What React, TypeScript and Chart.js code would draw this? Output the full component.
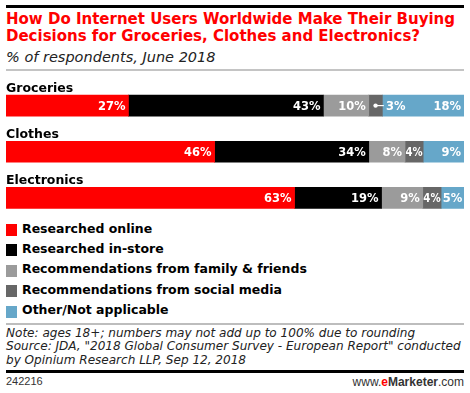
import React, { useEffect, useRef } from "react";
import { Chart, registerables } from "chart.js";

Chart.register(...registerables);

const categories = ["Groceries", "Clothes", "Electronics"];
const seriesNames = [
  "Researched online",
  "Researched in-store",
  "Recommendations from family & friends",
  "Recommendations from social media",
  "Other/Not applicable",
];
const researchedOnline = [27, 46, 63];
const researchedInStore = [43, 34, 19];
const recFamilyFriends = [10, 8, 9];
const recSocialMedia = [3, 4, 4];
const otherNA = [18, 9, 5];
const seriesColors = ["#ff0000", "#000000", "#9b9b9b", "#676767", "#66a7c9"];

const seriesValues = [researchedOnline, researchedInStore, recFamilyFriends, recSocialMedia, otherNA];

const FONT = "'DejaVu Sans', sans-serif";

const labelPlugin = {
  id: "segLabels",
  afterDatasetsDraw(chart: any) {
    const ctx = chart.ctx;
    ctx.save();
    const meta0 = chart.getDatasetMeta(0);
    meta0.data.forEach((el: any, i: number) => {
      const top = el.y - el.height / 2;
      ctx.font = `bold 12.5px ${FONT}`;
      ctx.fillStyle = "#000";
      ctx.textAlign = "left";
      ctx.textBaseline = "alphabetic";
      ctx.fillText(categories[i], chart.chartArea.left, top - 3.5);
    });
    chart.data.datasets.forEach((ds: any, d: number) => {
      const meta = chart.getDatasetMeta(d);
      meta.data.forEach((el: any, i: number) => {
        const raw = seriesValues[d][i];
        const text = raw + "%";
        const x = el.x;
        const base = el.base;
        const w = x - base;
        ctx.font = `bold 11.5px ${FONT}`;
        ctx.fillStyle = "#fff";
        ctx.strokeStyle = "#fff";
        ctx.textBaseline = "middle";
        const tw = ctx.measureText(text).width;
        const y = el.y + 1;
        if (w < tw - 4) {
          const cx = (base + x) / 2;
          ctx.beginPath();
          ctx.arc(cx, el.y, 2.2, 0, Math.PI * 2);
          ctx.fill();
          ctx.lineWidth = 1.2;
          ctx.beginPath();
          ctx.moveTo(cx, el.y);
          ctx.lineTo(x + 1.5, el.y);
          ctx.stroke();
          ctx.textAlign = "left";
          ctx.fillText(text, x + 3.5, y);
        } else if (w < tw + 5) {
          ctx.textAlign = "center";
          ctx.fillText(text, (base + x) / 2, y, w - 1);
        } else {
          ctx.textAlign = "right";
          ctx.fillText(text, x - 3, y);
        }
      });
    });
    ctx.restore();
  },
};

function BarChart() {
  const ref = useRef<HTMLCanvasElement>(null);
  useEffect(() => {
    if (!ref.current) return;
    const totals = categories.map((_, i) => seriesValues.reduce((s, arr) => s + arr[i], 0));
    const chart = new Chart(ref.current, {
      type: "bar",
      data: {
        labels: categories,
        datasets: seriesNames.map((name, d) => ({
          label: name,
          data: seriesValues[d].map((v, i) => (v / totals[i]) * 100),
          backgroundColor: seriesColors[d],
          borderWidth: 0,
          barThickness: 21,
        })),
      },
      options: {
        indexAxis: "y",
        responsive: false,
        animation: false,
        devicePixelRatio: 1,
        layout: { padding: { left: 6, right: 6, top: 7.5, bottom: 0 } },
        scales: {
          x: { stacked: true, min: 0, max: 100, display: false },
          y: { stacked: true, display: false },
        },
        plugins: { legend: { display: false }, tooltip: { enabled: false }, title: { display: false } },
      },
      plugins: [labelPlugin],
    } as any);
    return () => chart.destroy();
  }, []);
  return (
    <canvas
      ref={ref}
      width={470}
      height={146}
      style={{ position: "absolute", left: 0, top: 75, width: 470, height: 146 }}
    />
  );
}

export default function App() {
  const legendTop = 220.5;
  const legendStep = 20.4;
  return (
    <div
      style={{
        position: "absolute",
        left: 0,
        top: 0,
        width: 470,
        height: 393,
        background: "#fff",
        fontFamily: FONT,
        overflow: "hidden",
      }}
    >
      <div style={{ position: "absolute", left: 6, top: 5, width: 458, height: 3, background: "#000" }} />
      <div
        style={{
          position: "absolute",
          left: 6,
          top: 11,
          width: 470,
          font: `bold 15px ${FONT}`,
          lineHeight: "17px",
          color: "#ff0000",
          whiteSpace: "nowrap",
        }}
      >
        How Do Internet Users Worldwide Make Their Buying
        <br />
        Decisions for Groceries, Clothes and Electronics?
      </div>
      <div
        style={{
          position: "absolute",
          left: 6,
          top: 49,
          font: `italic 14.5px ${FONT}`,
          lineHeight: "17px",
          color: "#222",
          whiteSpace: "nowrap",
        }}
      >
        % of respondents, June 2018
      </div>
      <div style={{ position: "absolute", left: 6, top: 69, width: 458, height: 2, background: "#c4c4c4" }} />
      <BarChart />
      {seriesNames.map((name, i) => (
        <React.Fragment key={name}>
          <div
            style={{
              position: "absolute",
              left: 6,
              top: 224 + legendStep * i,
              width: 11,
              height: 12,
              background: seriesColors[i],
            }}
          />
          <div
            style={{
              position: "absolute",
              left: 22,
              top: legendTop + legendStep * i,
              font: `bold 12.5px ${FONT}`,
              lineHeight: "15px",
              color: "#000",
              whiteSpace: "nowrap",
            }}
          >
            {name}
          </div>
        </React.Fragment>
      ))}
      <div style={{ position: "absolute", left: 6, top: 323, width: 458, height: 1.5, background: "#bdbdbd" }} />
      <div
        style={{
          position: "absolute",
          left: 6,
          top: 327,
          font: `italic 12.05px ${FONT}`,
          lineHeight: "13.4px",
          color: "#222",
          whiteSpace: "nowrap",
        }}
      >
        Note: ages 18+; numbers may not add up to 100% due to rounding
        <br />
        Source: JDA, "2018 Global Consumer Survey - European Report" conducted
        <br />
        by Opinium Research LLP, Sep 12, 2018
      </div>
      <div style={{ position: "absolute", left: 6, top: 370, width: 458, height: 2.5, background: "#000" }} />
      <div
        style={{
          position: "absolute",
          left: 6,
          top: 375,
          font: "11px 'Liberation Sans', Arial, sans-serif",
          lineHeight: "13px",
          color: "#333",
        }}
      >
        242216
      </div>
      <div
        style={{
          position: "absolute",
          right: 6,
          top: 374.5,
          font: "12px 'Liberation Sans', Arial, sans-serif",
          lineHeight: "14px",
          color: "#333",
          whiteSpace: "nowrap",
        }}
      >
        www.<span style={{ color: "#ff0000", fontWeight: "bold" }}>e</span>
        <span style={{ fontWeight: "bold" }}>Marketer</span>.com
      </div>
    </div>
  );
}
